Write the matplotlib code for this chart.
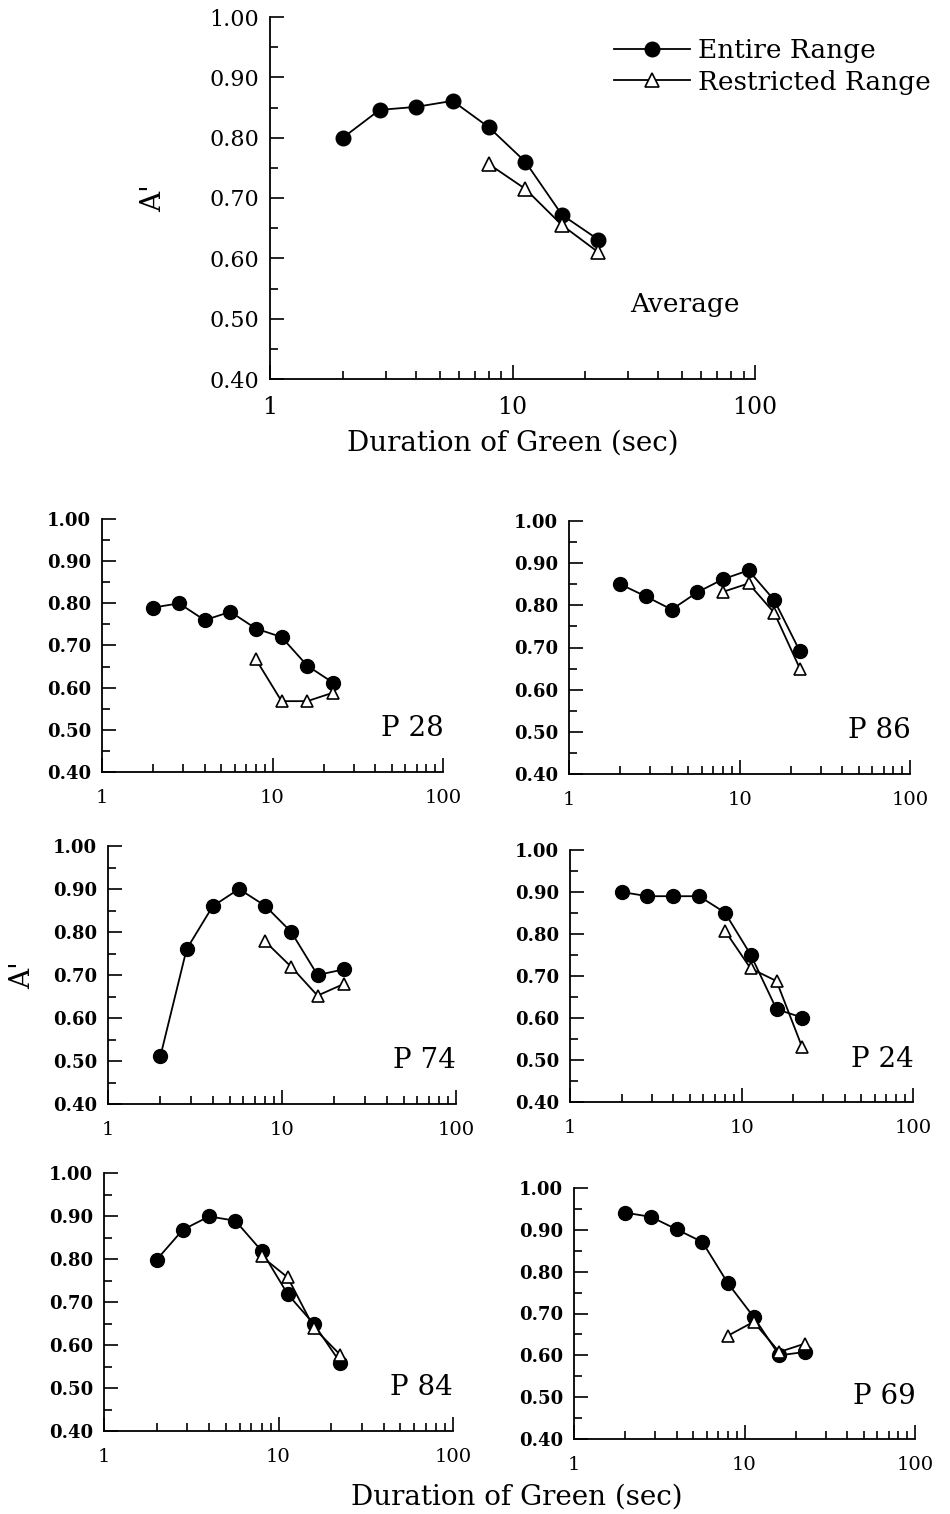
import numpy as np
import matplotlib
matplotlib.use("Agg")
import matplotlib.pyplot as plt
from matplotlib.ticker import FixedLocator, NullFormatter

plt.rcParams['font.family'] = ['DejaVu Serif']

# durations of green (sec)
dur = [2, 2.83, 4, 5.66, 8, 11.3, 16, 22.6]
dur_r = [8, 11.3, 16, 22.6]

avg_entire = [0.80, 0.846, 0.851, 0.861, 0.817, 0.760, 0.672, 0.631]
avg_restr = [0.756, 0.715, 0.655, 0.610]

p28_entire = [0.79, 0.80, 0.76, 0.78, 0.74, 0.72, 0.652, 0.612]
p28_restr = [0.667, 0.568, 0.568, 0.588]
p86_entire = [0.85, 0.821, 0.79, 0.831, 0.862, 0.883, 0.812, 0.691]
p86_restr = [0.832, 0.852, 0.782, 0.650]
p74_entire = [0.511, 0.76, 0.86, 0.90, 0.861, 0.80, 0.70, 0.713]
p74_restr = [0.778, 0.719, 0.652, 0.679]
p24_entire = [0.90, 0.89, 0.89, 0.89, 0.851, 0.751, 0.621, 0.601]
p24_restr = [0.808, 0.718, 0.688, 0.53]
p84_entire = [0.798, 0.868, 0.899, 0.889, 0.819, 0.718, 0.648, 0.559]
p84_restr = [0.806, 0.757, 0.639, 0.577]
p69_entire = [0.941, 0.931, 0.901, 0.871, 0.772, 0.692, 0.60, 0.608]
p69_restr = [0.647, 0.680, 0.608, 0.628]

W, H = 950, 1514
fig = plt.figure(figsize=(W / 100, H / 100), dpi=100)


def make_ax(l, r, t, b):
    return fig.add_axes([l / W, 1 - b / H, (r - l) / W, (b - t) / H])


def style(ax, xfs, yfs, ybold, ms_c, ms_t, entire, restr):
    ax.plot(dur, entire, '-o', color='black', lw=1.3, ms=ms_c,
            mfc='black', mec='black', label='Entire Range', zorder=3)
    ax.plot(dur_r, restr, '-^', color='black', lw=1.3, ms=ms_t,
            mfc='white', mec='black', mew=1.2, label='Restricted Range', zorder=4)
    ax.set_xscale('log')
    ax.set_xlim(1, 100)
    ax.set_ylim(0.40, 1.00)
    for s in ['top', 'right']:
        ax.spines[s].set_visible(False)
    for s in ['left', 'bottom']:
        ax.spines[s].set_linewidth(1.3)
    ax.xaxis.set_major_locator(FixedLocator([1, 10, 100]))
    ax.set_xticklabels(['1', '10', '100'])
    ax.xaxis.set_minor_locator(FixedLocator([2, 3, 4, 5, 6, 7, 8, 9,
                                             20, 30, 40, 50, 60, 70, 80, 90]))
    ax.xaxis.set_minor_formatter(NullFormatter())
    ax.yaxis.set_major_locator(FixedLocator([0.4, 0.5, 0.6, 0.7, 0.8, 0.9, 1.0]))
    ax.set_yticklabels(['0.40', '0.50', '0.60', '0.70', '0.80', '0.90', '1.00'])
    ax.yaxis.set_minor_locator(FixedLocator([0.45, 0.55, 0.65, 0.75, 0.85, 0.95]))
    ax.tick_params(which='both', direction='in', width=1.2)
    ax.tick_params(which='major', length=10)
    ax.tick_params(which='minor', length=6)
    ax.tick_params(axis='x', which='major', pad=12)
    ax.tick_params(axis='y', which='major', pad=8)
    for lab in ax.get_xticklabels():
        lab.set_fontsize(xfs)
    for lab in ax.get_yticklabels():
        lab.set_fontsize(yfs)
        lab.set_fontweight(ybold)


# top panel: average
ax0 = make_ax(270, 755, 17, 379)
style(ax0, 17, 16, 'normal', 10.5, 9.5, avg_entire, avg_restr)
ax0.set_xlabel('Duration of Green (sec)', fontsize=20, labelpad=8)
ax0.set_ylabel("A'", fontsize=20, labelpad=30)
ax0.text(0.855, 0.205, 'Average', transform=ax0.transAxes, fontsize=19,
         ha='center', va='center')
ax0.legend(loc='upper left', bbox_to_anchor=(0.665, 1.0), frameon=False,
           fontsize=19, handlelength=2.9, handletextpad=0.3, labelspacing=0.25,
           borderaxespad=0.4)

panels = [
    ((102, 443, 519, 772), p28_entire, p28_restr, 'P 28'),
    ((569, 910, 521, 774), p86_entire, p86_restr, 'P 86'),
    ((108, 456, 846, 1104), p74_entire, p74_restr, 'P 74'),
    ((570, 913, 850, 1102), p24_entire, p24_restr, 'P 24'),
    ((104, 453, 1173, 1431), p84_entire, p84_restr, 'P 84'),
    ((574, 915, 1188, 1439), p69_entire, p69_restr, 'P 69'),
]

axes = []
for box, ent, res, name in panels:
    ax = make_ax(*box)
    style(ax, 14, 13, 'bold', 10, 9, ent, res)
    ax.text(0.91, 0.17, name, transform=ax.transAxes, fontsize=20,
            ha='center', va='center')
    axes.append(ax)

axes[2].set_ylabel("A'", fontsize=20, labelpad=12)
fig.text(517 / W, 1 - 1497 / H, 'Duration of Green (sec)', fontsize=20,
         ha='center', va='center')

fig.savefig('out.png', dpi=100)
